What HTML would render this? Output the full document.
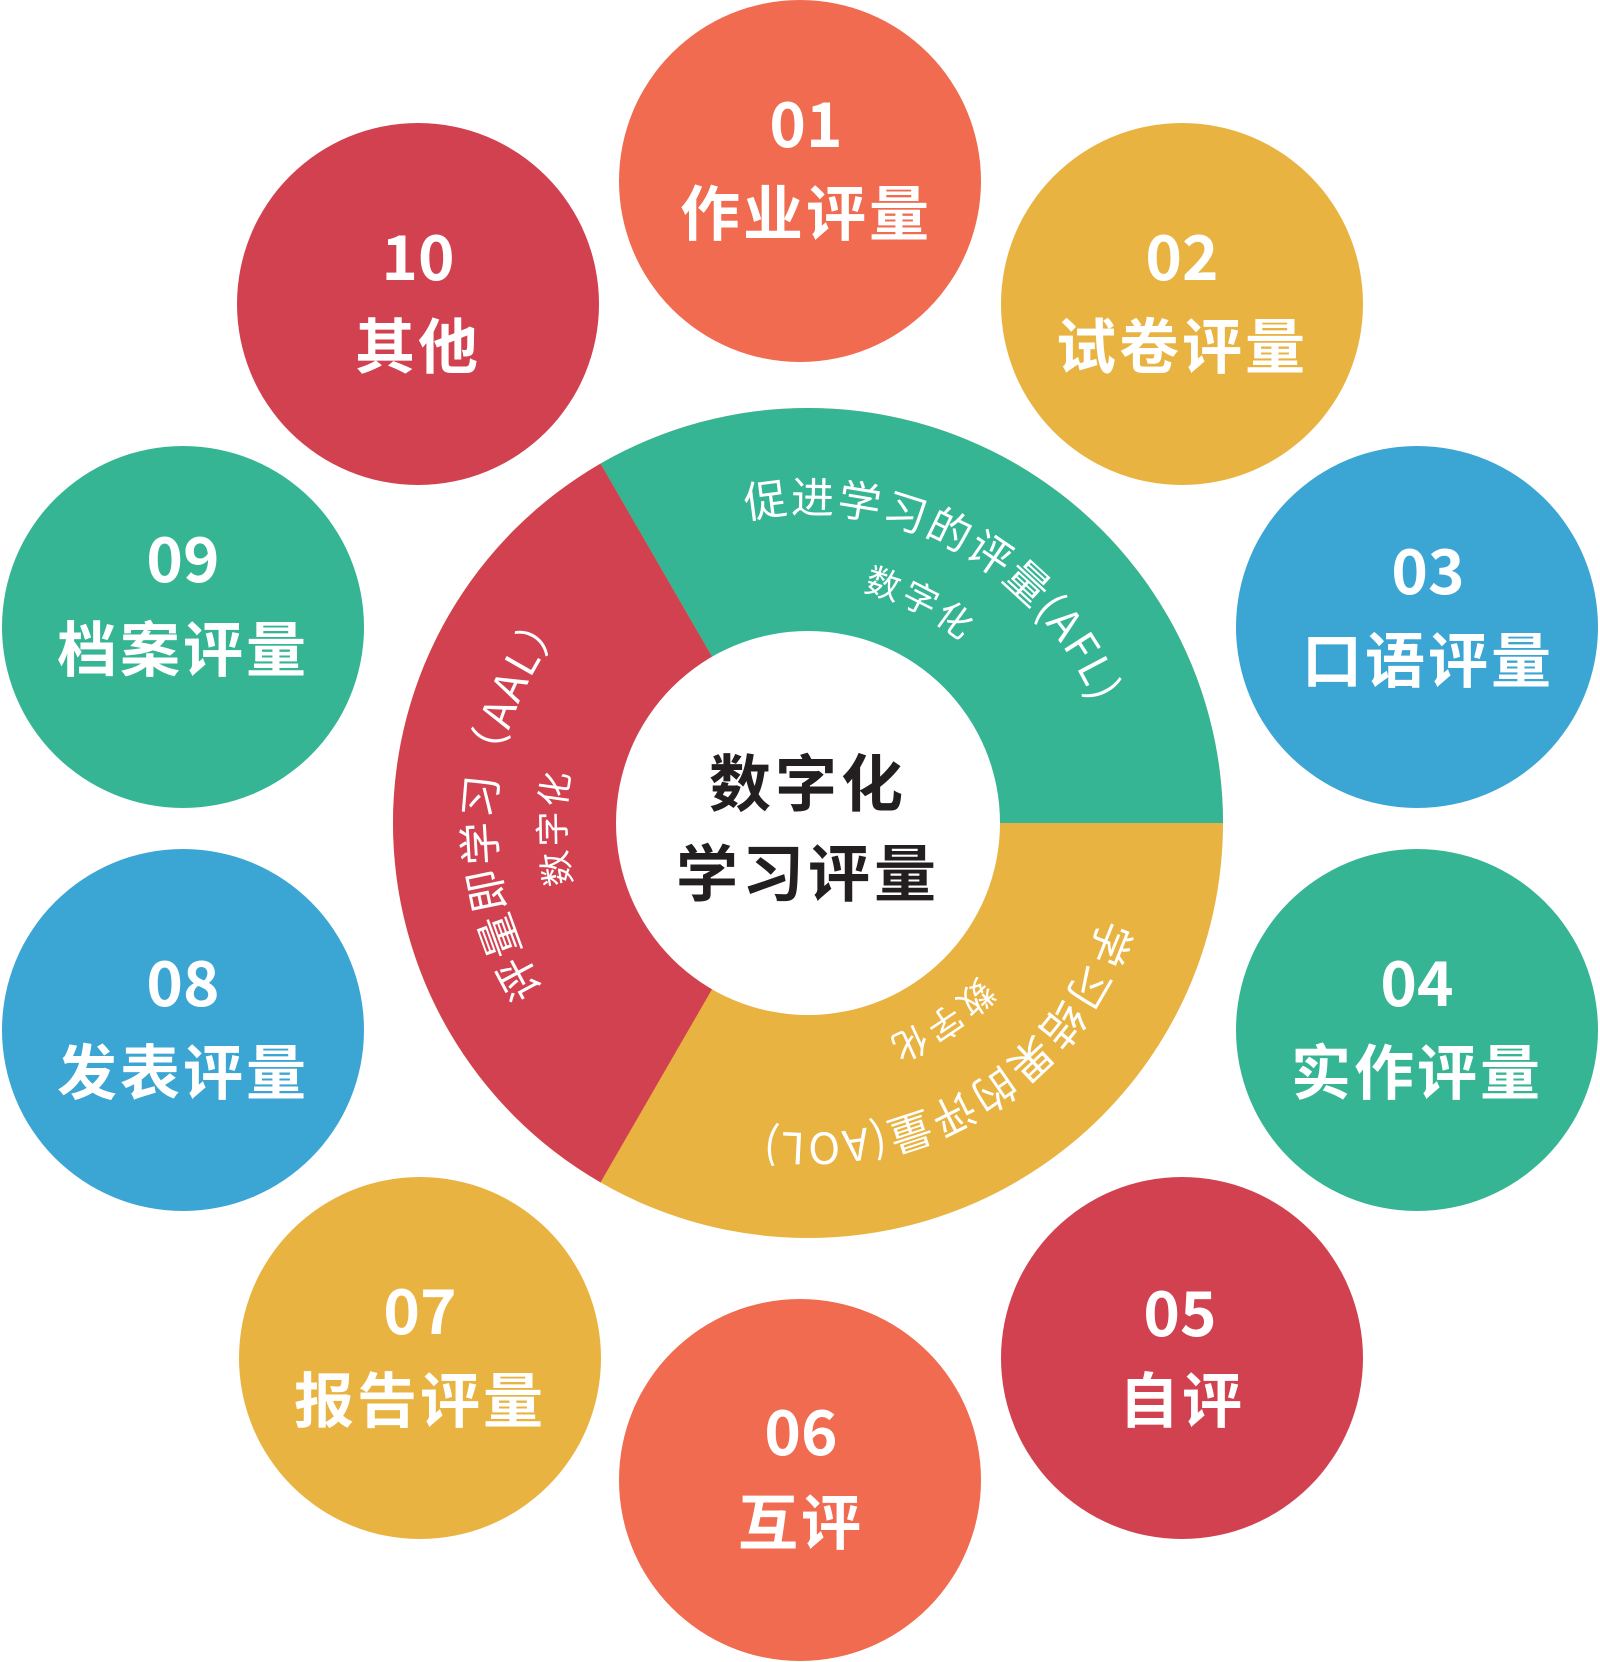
<!DOCTYPE html>
<html><head><meta charset="utf-8"><style>
html,body{margin:0;padding:0;background:#fff;}
svg{display:block;}
text{font-family:"Liberation Sans","Noto Sans CJK SC",sans-serif;}
.n{font-family:"Noto Sans CJK SC","Liberation Sans",sans-serif;font-weight:700;font-size:62px;fill:#fff;text-anchor:middle;dominant-baseline:central;}
.l{font-family:"Noto Sans CJK SC","Liberation Sans",sans-serif;font-weight:700;font-size:60px;fill:#fff;text-anchor:middle;dominant-baseline:central;letter-spacing:3px;}
.c{font-family:"Noto Sans CJK SC",sans-serif;font-weight:700;font-size:62px;fill:#231f20;text-anchor:middle;dominant-baseline:central;letter-spacing:4px;}
.a{font-family:"Noto Sans CJK SC","Liberation Sans",sans-serif;font-size:43px;fill:#fff;letter-spacing:2px;}
.s{font-family:"Noto Sans CJK SC",sans-serif;font-size:35px;fill:#fff;letter-spacing:3px;}
</style></head><body>
<svg width="1600" height="1662" viewBox="0 0 1600 1662" xmlns="http://www.w3.org/2000/svg">
<circle cx="808" cy="823" r="415" fill="#E9B342"/>
<path d="M808,823 L1223,823 A415 415 0 0 0 600.5,463.6 Z" fill="#36B594"/>
<path d="M808,823 L600.5,463.6 A415 415 0 0 0 600.5,1182.4 Z" fill="#D2414F"/>
<circle cx="808" cy="823" r="192" fill="#fff"/>
<text class="c" x="808" y="779">数字化</text>
<text class="c" x="808" y="869">学习评量</text>

<defs>
<path id="p310" d="M498,823 A310 310 0 0 1 1118,823"/>
<path id="p313" d="M495,823 A313 313 0 0 1 1121,823"/>
<path id="p238" d="M570,823 A238 238 0 0 1 1046,823"/>
<path id="p243" d="M565,823 A243 243 0 0 1 1051,823"/>
<path id="p230" d="M578,823 A230 230 0 0 1 1038,823"/>
</defs>
<g transform="rotate(28 808 823)"><text class="a"><textPath href="#p310" startOffset="50%" text-anchor="middle">促进学习的评量(AFL)</textPath></text></g>
<g transform="rotate(27 808 823)"><text class="s"><textPath href="#p238" startOffset="50%" text-anchor="middle">数字化</textPath></text></g>
<g transform="rotate(274 808 823)"><text class="a"><textPath href="#p313" startOffset="50%" text-anchor="middle">评量即学习（AAL）</textPath></text></g>
<g transform="rotate(269 808 823)"><text class="s"><textPath href="#p243" startOffset="50%" text-anchor="middle">数字化</textPath></text></g>
<g transform="rotate(148 808 823)"><text class="a"><textPath href="#p310" startOffset="50%" text-anchor="middle">学习结果的评量(AOL)</textPath></text></g>
<g transform="rotate(146 808 823)"><text class="s"><textPath href="#p230" startOffset="50%" text-anchor="middle">数字化</textPath></text></g>

<circle cx="800" cy="181" r="181" fill="#F06B50"/>
<text class="n" x="806" y="120">01</text><text class="l" x="806" y="210">作业评量</text>

<circle cx="1182" cy="304" r="181" fill="#E9B342"/>
<text class="n" x="1182" y="253">02</text><text class="l" x="1182" y="343">试卷评量</text>

<circle cx="1417" cy="627" r="181" fill="#3BA5D4"/>
<text class="n" x="1428" y="567">03</text><text class="l" x="1428" y="657">口语评量</text>

<circle cx="1417" cy="1030" r="181" fill="#36B594"/>
<text class="n" x="1417" y="979">04</text><text class="l" x="1417" y="1069">实作评量</text>

<circle cx="1182" cy="1358" r="181" fill="#D2414F"/>
<text class="n" x="1180" y="1309">05</text><text class="l" x="1182" y="1397">自评</text>

<circle cx="800" cy="1480" r="181" fill="#F06B50"/>
<text class="n" x="801" y="1428">06</text><text class="l" x="801" y="1519">互评</text>

<circle cx="420" cy="1358" r="181" fill="#E9B342"/>
<text class="n" x="420" y="1307">07</text><text class="l" x="420" y="1397">报告评量</text>

<circle cx="183" cy="1030" r="181" fill="#3BA5D4"/>
<text class="n" x="183" y="979">08</text><text class="l" x="183" y="1069">发表评量</text>

<circle cx="183" cy="627" r="181" fill="#36B594"/>
<text class="n" x="183" y="555">09</text><text class="l" x="183" y="646">档案评量</text>

<circle cx="418" cy="304" r="181" fill="#D2414F"/>
<text class="n" x="418" y="253">10</text><text class="l" x="418" y="343">其他</text>
</svg>
</body></html>
